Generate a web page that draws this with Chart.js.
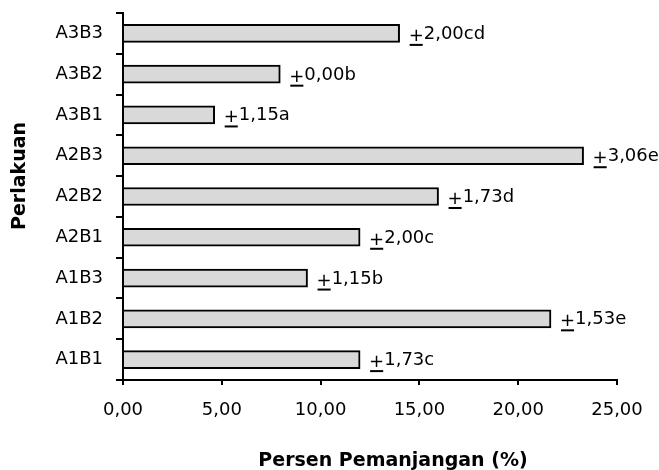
<!DOCTYPE html>
<html>
<head>
<meta charset="utf-8">
<script src="https://cdn.jsdelivr.net/npm/chart.js@4"></script>
<style>
  html, body { margin: 0; padding: 0; background: #fff; }
  canvas { display: block; }
</style>
</head>
<body>
<canvas id="chart" width="659" height="470"></canvas>
<script>
// Treatments, bottom to top
const treatments = ['A1B1', 'A1B2', 'A1B3', 'A2B1', 'A2B2', 'A2B3', 'A3B1', 'A3B2', 'A3B3'];
// Mean elongation (%)
const elongation = [12.0, 21.66, 9.34, 12.0, 15.97, 23.31, 4.64, 7.96, 14.0];
// Standard deviation shown next to each bar
const stdDev = [1.73, 1.53, 1.15, 2.00, 1.73, 3.06, 1.15, 0.00, 2.00];
// Significance letters
const notation = ['c', 'e', 'b', 'c', 'd', 'e', 'a', 'b', 'cd'];
// Value axis tick labels
const xTickLabels = ['0,00', '5,00', '10,00', '15,00', '20,00', '25,00'];
const xTitle = 'Persen Pemanjangan (%)';
const yTitle = 'Perlakuan';

const FONT = '"DejaVu Sans", Verdana, sans-serif';

const fmt = v => v.toFixed(2).replace('.', ',');

// Draws "±sd letter" after each bar (plus sign underlined) and both axis titles
const annotations = {
  id: 'annotations',
  afterDatasetsDraw(chart) {
    const ctx = chart.ctx;
    const meta = chart.getDatasetMeta(0);
    ctx.save();
    ctx.fillStyle = '#000';
    ctx.font = '18px ' + FONT;
    ctx.textAlign = 'left';
    ctx.textBaseline = 'alphabetic';
    meta.data.forEach((bar, i) => {
      const x0 = bar.x + 9;
      const base = bar.y + 5.5;
      ctx.fillText('+', x0, base + 2);
      const pw = ctx.measureText('+').width;
      ctx.fillRect(x0 + 1, base + 5, pw - 2, 2);
      ctx.fillText(fmt(stdDev[i]) + notation[i], x0 + pw, base);
    });

    ctx.font = 'bold 19px ' + FONT;
    ctx.textAlign = 'center';
    ctx.fillText(xTitle, 393, 466);

    ctx.translate(24.5, 176);
    ctx.rotate(-Math.PI / 2);
    ctx.fillText(yTitle, 0, 0);
    ctx.restore();
  }
};

new Chart(document.getElementById('chart'), {
  type: 'bar',
  data: {
    labels: treatments,
    datasets: [{
      data: elongation,
      backgroundColor: '#d9d9d9',
      borderColor: '#000',
      borderWidth: 2,
      borderSkipped: 'start',
      barThickness: 18
    }]
  },
  options: {
    indexAxis: 'y',
    responsive: false,
    animation: false,
    devicePixelRatio: 1,
    layout: { padding: { left: 0, top: 13, right: 42, bottom: 0 } },
    plugins: {
      legend: { display: false },
      tooltip: { enabled: false }
    },
    scales: {
      x: {
        min: 0,
        max: 25,
        ticks: {
          stepSize: 5,
          callback: (v, i) => xTickLabels[i],
          font: { family: FONT, size: 18 },
          color: '#000',
          padding: 15,
          maxRotation: 0
        },
        grid: {
          drawOnChartArea: false,
          drawTicks: true,
          tickLength: 5,
          color: '#000',
          lineWidth: 2
        },
        border: { color: '#000', width: 2 },
        afterFit: s => { s.height = 90; s.paddingLeft = 0; s.paddingRight = 0; }
      },
      y: {
        reverse: true,
        ticks: {
          font: { family: FONT, size: 18 },
          color: '#000',
          padding: 13
        },
        grid: {
          offset: true,
          drawOnChartArea: false,
          drawTicks: true,
          tickLength: 7,
          color: '#000',
          lineWidth: 2
        },
        border: { color: '#000', width: 2 },
        afterFit: s => { s.width = 123; s.paddingTop = 0; s.paddingBottom = 0; }
      }
    }
  },
  plugins: [annotations]
});
</script>
</body>
</html>
